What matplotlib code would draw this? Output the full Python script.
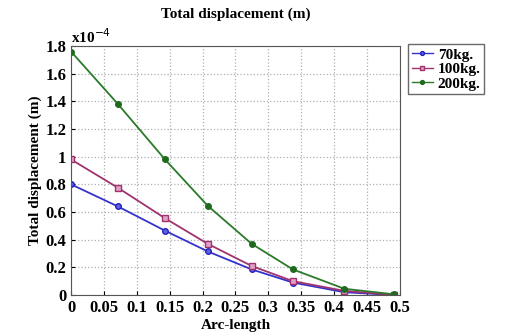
import matplotlib
matplotlib.use("Agg")
import matplotlib.pyplot as plt

plt.rcParams['font.family'] = ['Liberation Serif', 'DejaVu Serif']

arc = [0.0, 0.0714, 0.1429, 0.2079, 0.2747, 0.3374, 0.4158, 0.4913]
d70 = [0.80, 0.64, 0.465, 0.315, 0.185, 0.09, 0.02, 0.0]
d100 = [0.98, 0.775, 0.555, 0.37, 0.21, 0.10, 0.03, 0.0]
d200 = [1.76, 1.38, 0.98, 0.645, 0.37, 0.185, 0.045, 0.005]
labels = ['70kg.', '100kg.', '200kg.']
xticks = [0, 0.05, 0.1, 0.15, 0.2, 0.25, 0.3, 0.35, 0.4, 0.45, 0.5]
yticks = [0, 0.2, 0.4, 0.6, 0.8, 1, 1.2, 1.4, 1.6, 1.8]

fig = plt.figure(figsize=(5.08, 3.35), dpi=100)
ax = fig.add_axes([0.1398, 0.1194, 0.6472, 0.7433])

ax.plot(arc, d70, '-o', color='#3333cc', lw=1.3, ms=4, mfc='#6060e0', mec='#2222bb', label=labels[0])
ax.plot(arc, d100, '-s', color='#a0336e', lw=1.3, ms=4, mfc='#e0a0c8', mec='#a0336e', label=labels[1])
ax.plot(arc, d200, '-o', color='#2a7a2a', lw=1.3, ms=4, mfc='#1f6a1f', mec='#1f6a1f', label=labels[2])

ax.set_xlim(0, 0.5)
ax.set_ylim(0, 1.8)
ax.set_xticks(xticks)
ax.set_xticklabels([('%g' % t) for t in xticks])
ax.set_yticks(yticks)
ax.set_yticklabels([('%g' % t) for t in yticks])
ax.tick_params(direction='in', labelsize=12, length=3)
for lab in ax.get_xticklabels() + ax.get_yticklabels():
    lab.set_fontweight('bold')
ax.grid(True, linestyle=':', color='#b0b0b0', lw=0.9)
for s in ax.spines.values():
    s.set_color('#555555')

ax.set_title('Total displacement (m)', fontsize=11, fontweight='bold', pad=20)
ax.set_xlabel('Arc-length', fontsize=11, fontweight='bold', labelpad=2)
ax.set_ylabel('Total displacement (m)', fontsize=11, fontweight='bold', labelpad=2)
ax.text(0.0, 1.0, r'x10$^{-4}$', transform=ax.transAxes, fontsize=11,
        fontweight='bold', ha='left', va='bottom')

leg = fig.legend(loc='upper left', bbox_to_anchor=(0.803, 0.868),
                 prop={'weight': 'bold', 'size': 11}, frameon=True, fancybox=False,
                 handlelength=1.4, borderpad=0.25, labelspacing=0.05, handletextpad=0.3,
                 markerscale=0.7, borderaxespad=0)
leg.get_frame().set_edgecolor('#444444')
leg.get_frame().set_linewidth(1.0)
for h in leg.legend_handles:
    h.set_linewidth(1.0)

fig.savefig('out.png', dpi=100)
